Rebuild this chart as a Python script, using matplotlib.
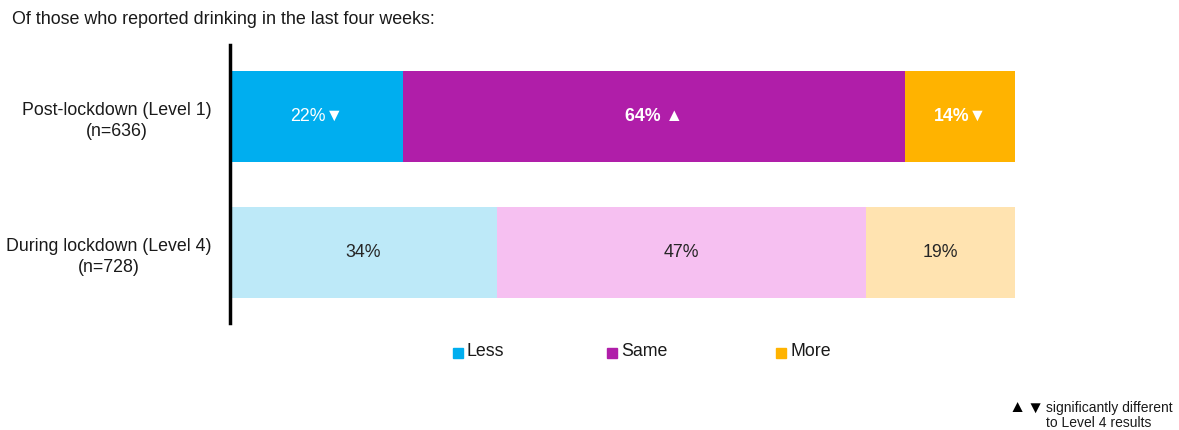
import matplotlib
matplotlib.use("Agg")
import matplotlib.pyplot as plt
from matplotlib.patches import Rectangle

plt.rcParams['font.family'] = ['Liberation Sans', 'DejaVu Sans']

categories = ["During lockdown (Level 4)\n(n=728)", "Post-lockdown (Level 1)\n(n=636)"]
series = ["Less", "Same", "More"]
less_vals = [34, 22]
same_vals = [47, 64]
more_vals = [19, 14]
label_post = ["22%\u25BC", "64% \u25B2", "14%\u25BC"]
label_during = ["34%", "47%", "19%"]

dark_colors = ["#00AEEF", "#B01EA9", "#FFB300"]
light_colors = ["#BDE9F8", "#F6C0F1", "#FFE3B0"]

W, H = 1179, 430
FS = 12.8
fig = plt.figure(figsize=(W / 100, H / 100), dpi=100)
ax = fig.add_axes([230 / W, 107 / H, 785 / W, 278 / H])
ax.set_xlim(0, 100)
ax.set_ylim(-0.518, 1.526)

vals = [less_vals, same_vals, more_vals]
bh = 0.669
for row in range(2):
    left = 0
    for s in range(3):
        v = vals[s][row]
        col = dark_colors[s] if row == 1 else light_colors[s]
        ax.barh(row, v, left=left, height=bh, color=col, edgecolor='none')
        cx = left + v / 2
        if row == 1:
            ax.text(cx, row, label_post[s], ha='center', va='center', color='white',
                    fontsize=FS, fontweight='normal' if s == 0 else 'bold')
        else:
            ax.text(cx, row, label_during[s], ha='center', va='center', color='#262626',
                    fontsize=FS)
        left += v

for sp in ['top', 'right', 'bottom']:
    ax.spines[sp].set_visible(False)
ax.spines['left'].set_linewidth(2.5)
ax.spines['left'].set_color('black')
ax.set_xticks([])
ax.set_yticks([0, 1])
ax.set_yticklabels(categories, fontsize=FS, color='#1a1a1a', ha='right',
                   multialignment='center', linespacing=1.35)
ax.tick_params(axis='y', length=0, pad=13)

fig.text(12 / W, 1 - 20 / H, "Of those who reported drinking in the last four weeks:",
         fontsize=12.9, color='#1a1a1a', va='center', ha='left')

# legend
leg_x = [453, 607, 776]
for i, name in enumerate(series):
    fig.patches.append(Rectangle((leg_x[i] / W, 1 - 358 / H), 10 / W, 10 / H,
                                 transform=fig.transFigure, color=dark_colors[i]))
    fig.text((leg_x[i] + 14) / W, 1 - 352 / H, name, fontsize=FS, color='#1a1a1a',
             va='center', ha='left')

fig.text(1017 / W, 1 - 408 / H, "\u25B2", fontsize=12.5, color='black',
         va='center', ha='center')
fig.text(1035 / W, 1 - 408 / H, "\u25BC", fontsize=12.5, color='black',
         va='center', ha='center')
fig.text(1046 / W, 1 - 408 / H, "significantly different",
         fontsize=10, color='#1a1a1a', va='center', ha='left')
fig.text(1046 / W, 1 - 423 / H, "to Level 4 results",
         fontsize=10, color='#1a1a1a', va='center', ha='left')

fig.savefig("out.png", dpi=100)
